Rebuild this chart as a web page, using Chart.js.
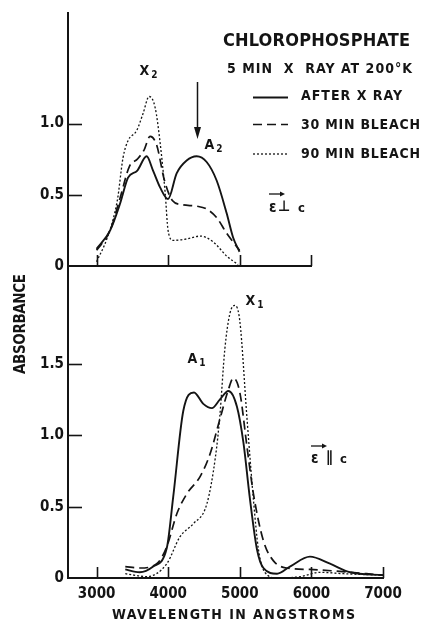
<!DOCTYPE html>
<html><head><meta charset="utf-8">
<script src="https://cdn.jsdelivr.net/npm/chart.js@4/dist/chart.umd.min.js"></script>
<style>
html,body{margin:0;padding:0;background:#fff;}
#wrap{position:relative;width:422px;height:624px;background:#fff;}
canvas{position:absolute;left:0;top:0;}
</style></head><body>
<div id="wrap"><canvas id="cTop" width="422" height="624"></canvas><canvas id="cBot" width="422" height="624"></canvas></div>
<script>
// ---------------- DATA ----------------
const seriesNames = ['AFTER X RAY', '30 MIN BLEACH', '90 MIN BLEACH'];

// Top panel (E perpendicular to c)
const topAfterX = [3000,3190,3330,3440,3570,3700,3790,3890,4000,4120,4260,4400,4540,4680,4820,4910,5000];
const topAfterY = [0.12,0.25,0.44,0.62,0.67,0.77,0.67,0.55,0.47,0.65,0.74,0.77,0.73,0.60,0.37,0.20,0.10];
const top30X = [3000,3190,3330,3460,3570,3660,3750,3840,3950,4060,4200,4400,4540,4680,4820,5000];
const top30Y = [0.11,0.25,0.48,0.70,0.75,0.81,0.91,0.85,0.60,0.46,0.43,0.42,0.40,0.34,0.23,0.11];
const top90X = [3000,3150,3290,3370,3440,3560,3650,3735,3820,3890,3960,4000,4070,4260,4450,4630,4820,4980];
const top90Y = [0.03,0.20,0.46,0.76,0.88,0.95,1.07,1.19,1.11,0.86,0.51,0.25,0.18,0.19,0.21,0.17,0.07,0.01];

// Bottom panel (E parallel to c)
const botAfterX = [3400,3600,3790,3980,4070,4210,4360,4490,4610,4720,4840,4960,5050,5140,5240,5330,5520,5700,5980,6260,6540,7000];
const botAfterY = [0.06,0.04,0.08,0.21,0.57,1.17,1.30,1.22,1.19,1.25,1.31,1.20,0.95,0.56,0.20,0.07,0.03,0.08,0.15,0.10,0.04,0.02];
const bot30X = [3400,3600,3840,3980,4120,4260,4445,4585,4720,4840,4910,5000,5100,5190,5330,5470,5650,5980,6300,7000];
const bot30Y = [0.08,0.07,0.10,0.22,0.45,0.59,0.71,0.87,1.11,1.32,1.40,1.30,0.92,0.59,0.26,0.12,0.07,0.06,0.05,0.02];
const bot90X = [3400,3700,3980,4165,4350,4540,4660,4720,4790,4860,4930,5000,5100,5190,5260,5350,5520,5850,6120,6450,7000];
const bot90Y = [0.03,0.01,0.10,0.29,0.38,0.52,0.85,1.13,1.60,1.85,1.91,1.80,1.12,0.55,0.20,0.04,0.00,0.01,0.04,0.03,0.02];

const xTicksTop = [3000,4000,5000,6000];
const xTicksBottom = [3000,4000,5000,6000,7000];
const yTicksTop = [0, 0.5, 1.0];
const yTicksBottom = [0, 0.5, 1.0, 1.5];

// ---------------- STYLE ----------------
const F = '"DejaVu Sans Condensed","DejaVu Sans",sans-serif';
const INK = '#141414';
const lineStyles = [
  {borderDash: [], borderWidth: 1.9},
  {borderDash: [9, 5], borderWidth: 1.7},
  {borderDash: [2, 2], borderWidth: 1.3}
];

function pts(xs, ys){ return xs.map((x,i)=>({x:x, y:ys[i]})); }
function mkDatasets(list){
  return list.map((p,i)=>Object.assign({
    label: seriesNames[i], data: pts(p[0], p[1]), borderColor: INK, backgroundColor: INK,
    pointRadius: 0, fill: false, cubicInterpolationMode: 'monotone', borderCapStyle: 'butt'
  }, lineStyles[i]));
}

function fitText(ctx, s, left, cy, size, width){
  ctx.font = 'bold ' + size + 'px ' + F;
  ctx.letterSpacing = '0px';
  const w = ctx.measureText(s).width;
  const n = [...s].length;
  let ls = n > 1 ? (width - w) / (n - 1) : 0;
  ls = Math.max(-2, Math.min(8, ls));
  ctx.letterSpacing = ls + 'px';
  ctx.textAlign = 'left';
  ctx.textBaseline = 'middle';
  ctx.fillStyle = INK;
  ctx.fillText(s, left, cy);
  ctx.letterSpacing = '0px';
}
function sub(ctx, main, s, x, cy, size){
  ctx.font = 'bold ' + size + 'px ' + F;
  ctx.textAlign = 'left'; ctx.textBaseline = 'middle'; ctx.fillStyle = INK;
  ctx.fillText(main, x, cy);
  const w = ctx.measureText(main).width;
  ctx.font = 'bold ' + Math.round(size*0.72) + 'px ' + F;
  ctx.fillText(s, x + w + 2, cy + size*0.3);
}
function vecArrow(ctx, x1, x2, y){
  ctx.save(); ctx.strokeStyle = INK; ctx.fillStyle = INK; ctx.lineWidth = 1.3;
  ctx.beginPath(); ctx.moveTo(x1, y); ctx.lineTo(x2 - 3, y); ctx.stroke();
  ctx.beginPath(); ctx.moveTo(x2, y); ctx.lineTo(x2 - 5, y - 2.5); ctx.lineTo(x2 - 5, y + 2.5); ctx.closePath(); ctx.fill();
  ctx.restore();
}

const inwardTicks = {
  id: 'inwardTicks',
  afterDraw(chart){
    const {ctx, chartArea: a, scales: {x, y}} = chart;
    ctx.save(); ctx.strokeStyle = INK; ctx.lineWidth = 1.6;
    x.ticks.forEach(t => {
      const px = Math.round(x.getPixelForValue(t.value)) + 0.5;
      ctx.beginPath(); ctx.moveTo(px, a.bottom); ctx.lineTo(px, a.bottom - 11); ctx.stroke();
    });
    y.ticks.forEach(t => {
      if (t.value === 0) return;
      const py = Math.round(y.getPixelForValue(t.value)) + 0.5;
      ctx.beginPath(); ctx.moveTo(a.left, py); ctx.lineTo(a.left + 14, py); ctx.stroke();
    });
    ctx.restore();
  }
};

function yLabel(v){ return v === 0 ? '0' : v.toFixed(1); }

function scalesFor(xmax, ymax, xT, yT, showX){
  return {
    x: {
      type: 'linear', min: 2600, max: xmax,
      afterBuildTicks: s => { s.ticks = xT.map(v => ({value: v})); },
      afterFit: s => { s.height = showX ? 46 : 0; },
      grid: {display: false, drawTicks: false},
      border: {display: true, color: INK, width: 2},
      ticks: {display: showX, padding: 7, color: INK, font: {family: F, size: 15, weight: 'bold'}, maxRotation: 0,
              callback: v => String(v)}
    },
    y: {
      type: 'linear', min: 0, max: ymax,
      afterBuildTicks: s => { s.ticks = yT.map(v => ({value: v})); },
      afterFit: s => { s.width = 68; },
      grid: {display: false, drawTicks: false},
      border: {display: true, color: INK, width: 2},
      ticks: {padding: 4, color: INK, font: {family: F, size: 15, weight: 'bold'}, callback: yLabel}
    }
  };
}

const topText = {
  id: 'topText',
  afterDraw(chart){
    const ctx = chart.ctx;
    ctx.save();
    fitText(ctx, 'CHLOROPHOSPHATE', 223, 41, 18, 187);
    fitText(ctx, '5 MIN  X  RAY AT 200°K', 227, 69.5, 14, 185);
    const labs = [[96, 97.5], [125, 124.5], [154, 154]];
    const widths = [101, 119, 119];
    chart.data.datasets.forEach((d, i) => {
      ctx.save();
      ctx.strokeStyle = INK; ctx.lineWidth = d.borderWidth; ctx.setLineDash(d.borderDash);
      ctx.beginPath(); ctx.moveTo(253, labs[i][1]); ctx.lineTo(288, labs[i][1]); ctx.stroke();
      ctx.restore();
      fitText(ctx, d.label, 301, labs[i][0], 14, widths[i]);
    });
    sub(ctx, 'X', '2', 139.5, 71, 14);
    sub(ctx, 'A', '2', 204.5, 145, 14);
    // arrow pointing to A2 band
    const ax = Math.round(chart.scales.x.getPixelForValue(4400)) + 0.5;
    ctx.strokeStyle = INK; ctx.fillStyle = INK; ctx.lineWidth = 1.5;
    ctx.beginPath(); ctx.moveTo(ax, 82); ctx.lineTo(ax, 130); ctx.stroke();
    ctx.beginPath(); ctx.moveTo(ax, 139); ctx.lineTo(ax - 3.5, 127); ctx.lineTo(ax + 3.5, 127); ctx.closePath(); ctx.fill();
    // polarization label
    ctx.font = 'bold 15px ' + F; ctx.textBaseline = 'middle'; ctx.textAlign = 'left'; ctx.fillStyle = INK;
    ctx.fillText('ε', 269, 208);
    ctx.fillText('⊥', 278, 207);
    ctx.font = 'bold 13px ' + F;
    ctx.fillText('c', 298, 209);
    vecArrow(ctx, 269, 285, 194);
    ctx.restore();
  }
};

const botText = {
  id: 'botText',
  afterDraw(chart){
    const ctx = chart.ctx;
    ctx.save();
    sub(ctx, 'A', '1', 187.5, 359, 14);
    sub(ctx, 'X', '1', 245.5, 301, 14);
    ctx.font = 'bold 15px ' + F; ctx.textBaseline = 'middle'; ctx.textAlign = 'left'; ctx.fillStyle = INK;
    ctx.fillText('ε', 311, 459);
    ctx.fillText('∥', 326, 458);
    ctx.font = 'bold 13px ' + F;
    ctx.fillText('c', 340, 460);
    vecArrow(ctx, 311, 327, 446);
    // axis titles
    fitText(ctx, 'WAVELENGTH IN ANGSTROMS', 112, 615.5, 14, 243);
    ctx.save();
    ctx.translate(21.5, 324);
    ctx.rotate(-Math.PI / 2);
    fitText(ctx, 'ABSORBANCE', -50, 0, 15, 100);
    ctx.restore();
    ctx.restore();
  }
};

Chart.defaults.animation = false;

new Chart(document.getElementById('cTop'), {
  type: 'line',
  data: {datasets: mkDatasets([[topAfterX, topAfterY], [top30X, top30Y], [top90X, top90Y]])},
  options: {
    responsive: false, animation: false,
    layout: {padding: {left: 0, top: 12, right: 111, bottom: 358}},
    plugins: {legend: {display: false}, tooltip: {enabled: false}},
    scales: scalesFor(6000, 1.776, xTicksTop, yTicksTop, false)
  },
  plugins: [inwardTicks, topText]
});

new Chart(document.getElementById('cBot'), {
  type: 'line',
  data: {datasets: mkDatasets([[botAfterX, botAfterY], [bot30X, bot30Y], [bot90X, bot90Y]])},
  options: {
    responsive: false, animation: false,
    layout: {padding: {left: 0, top: 266, right: 39, bottom: 0}},
    plugins: {legend: {display: false}, tooltip: {enabled: false}},
    scales: scalesFor(7000, 2.186, xTicksBottom, yTicksBottom, true)
  },
  plugins: [inwardTicks, botText]
});
</script>
</body></html>
